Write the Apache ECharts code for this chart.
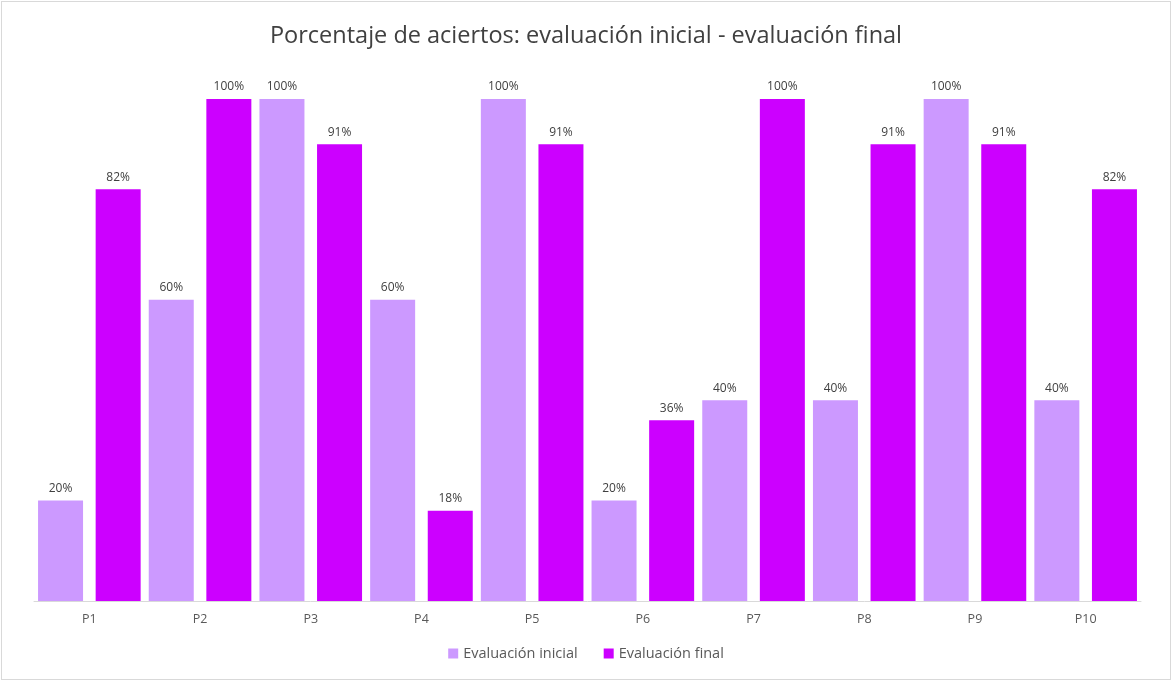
<!DOCTYPE html>
<html>
<head>
<meta charset="utf-8">
<script src="https://cdn.jsdelivr.net/npm/echarts@6/dist/echarts.min.js"></script>
<style>
  html, body { margin: 0; padding: 0; background: #fff; }
  #eCharts { width: 1168px; height: 677px; margin: 1px; border: 1px solid #d9d9d9; }
</style>
</head>
<body>
<div id="eCharts"></div>
<script>
var categories = ['P1', 'P2', 'P3', 'P4', 'P5', 'P6', 'P7', 'P8', 'P9', 'P10'];
var inicial = [20, 60, 100, 60, 100, 20, 40, 40, 100, 40];
var final_ = [82, 100, 91, 18, 91, 36, 100, 91, 91, 82];

var myChart = echarts.init(document.getElementById('eCharts'));
var labelStyle = {
    show: true,
    position: 'top',
    distance: 6,
    formatter: '{c}%',
    color: '#404040',
    fontSize: 12,
    fontFamily: 'Open Sans'
};

var option = {
    animation: false,
    title: {
        text: 'Porcentaje de aciertos: evaluación inicial - evaluación final',
        left: 'center',
        top: 17,
        textStyle: { fontFamily: 'Open Sans', fontWeight: 'normal', fontSize: 23.5, color: '#404040' }
    },
    legend: {
        bottom: 13,
        left: 'center',
        itemWidth: 10,
        itemHeight: 10,
        itemGap: 26,
        icon: 'rect',
        textStyle: { fontFamily: 'Open Sans', fontSize: 14.5, color: '#595959' },
        data: ['Evaluación inicial', 'Evaluación final']
    },
    grid: { left: 32, right: 29, top: 97, bottom: 78 },
    xAxis: {
        type: 'category',
        data: categories,
        axisTick: { show: false },
        axisLine: { lineStyle: { color: '#d9d9d9', width: 1 } },
        axisLabel: { color: '#595959', fontSize: 12.5, fontFamily: 'Open Sans', margin: 12 }
    },
    yAxis: {
        type: 'value',
        min: 0,
        max: 100,
        show: false,
        splitLine: { show: false }
    },
    series: [
        {
            name: 'Evaluación inicial',
            type: 'bar',
            data: inicial,
            barWidth: 45,
            barGap: '28%',
            itemStyle: { color: '#cc99ff' },
            label: labelStyle
        },
        {
            name: 'Evaluación final',
            type: 'bar',
            data: final_,
            barWidth: 45,
            itemStyle: { color: '#cc00ff' },
            label: labelStyle
        }
    ]
};
myChart.setOption(option);
</script>
</body>
</html>
